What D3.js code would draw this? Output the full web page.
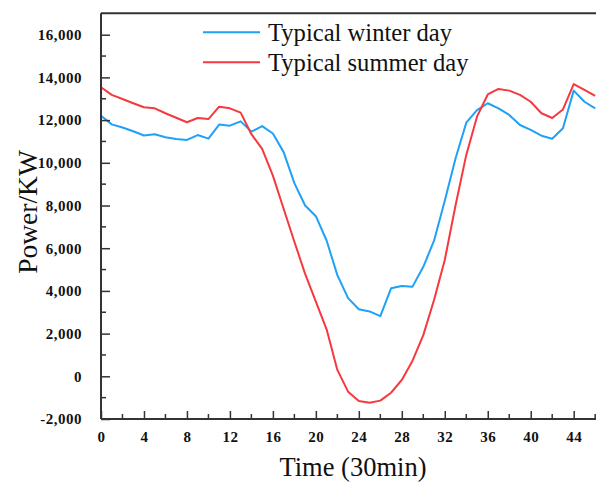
<!DOCTYPE html>
<html><head><meta charset="utf-8">
<script src="https://cdn.jsdelivr.net/npm/d3@7"></script>
<style>body{margin:0;background:#fff}svg{display:block}</style>
</head><body>
<svg id="c" width="596" height="484"></svg>
<script>
const time = d3.range(0, 47);
const winter = [12200,11800,11650,11480,11280,11340,11200,11120,11070,11300,11130,11790,11740,11940,11460,11720,11370,10500,9050,8000,7500,6360,4740,3660,3140,3040,2820,4120,4230,4200,5130,6350,8220,10200,11880,12470,12790,12550,12240,11770,11540,11270,11130,11620,13380,12860,12550];
const summer = [13540,13180,12990,12790,12600,12550,12320,12110,11900,12100,12050,12630,12550,12350,11340,10650,9400,7850,6300,4800,3500,2200,300,-720,-1160,-1240,-1140,-770,-170,730,1930,3570,5450,8000,10370,12160,13200,13460,13380,13180,12860,12320,12100,12500,13690,13410,13130];
const xTicks = [0,4,8,12,16,20,24,28,32,36,40,44];
const yTicks = [-2000,0,2000,4000,6000,8000,10000,12000,14000,16000];
const seriesNames = ["Typical winter day","Typical summer day"];
const colors = ["#1ea1f7","#f5393e"];

const svg = d3.select("#c");
const L = 101, T = 13.35, B = 419;
const x = d3.scaleLinear().domain([0,47]).range([L, L + 47*10.743]);
const y = d3.scaleLinear().domain([-2000,17000]).range([B, T]);
const fmt = d => d3.format(",")(d).replace("\u2212","-");
const serif = "'Liberation Serif','Times New Roman',serif";

// lines
const line = d3.line().x((d,i)=>x(time[i])).y(d=>y(d));
[winter, summer].forEach((s,k)=>{
  svg.append("path").datum(s).attr("d", line).attr("fill","none")
    .attr("stroke", colors[k]).attr("stroke-width", 2).attr("stroke-linejoin","round");
});

// frame
const axCol = "#333";
svg.append("line").attr("x1",L).attr("x2",x(47)).attr("y1",T).attr("y2",T).attr("stroke",axCol).attr("stroke-width",2);

// axes
const yAxis = d3.axisLeft(y).tickValues(yTicks).tickFormat(fmt).tickSize(-9).tickPadding(19);
const gy = svg.append("g").attr("transform",`translate(${L},0)`).call(yAxis);
const yMinor = d3.range(-1000,17000,2000);
gy.selectAll(".minor").data(yMinor).enter().append("line").attr("class","minor")
  .attr("x1",0).attr("x2",5).attr("y1",d=>y(d)).attr("y2",d=>y(d)).attr("stroke",axCol).attr("stroke-width",1.5);

const xAxis = d3.axisBottom(x).tickValues(xTicks).tickSize(-8).tickPadding(17);
const gx = svg.append("g").attr("transform",`translate(0,${B})`).call(xAxis);
const xMinor = d3.range(2,47,4);
gx.selectAll(".minor").data(xMinor).enter().append("line").attr("class","minor")
  .attr("x1",d=>x(d)).attr("x2",d=>x(d)).attr("y1",0).attr("y2",-5).attr("stroke",axCol).attr("stroke-width",1.5);

[gx, gy].forEach(g=>{
  g.select(".domain").attr("stroke",axCol).attr("stroke-width",2);
  g.selectAll(".tick line").attr("stroke",axCol).attr("stroke-width",1.5);
  g.selectAll(".tick text").attr("font-family",serif).attr("font-weight","bold").attr("font-size",15)
    .attr("letter-spacing","0.5px").attr("fill","#111");
});
gy.select(".domain").attr("d",`M0,${B}V${T}`);
gx.select(".domain").attr("d",`M${L},0H${x(47)}`);
gx.selectAll(".tick text").attr("dy","0.32em").attr("y",18);

// axis titles
svg.append("text").attr("x",353).attr("y",476).attr("text-anchor","middle")
  .attr("font-family",serif).attr("font-size",26.5).attr("fill","#111").text("Time (30min)");
svg.append("text").attr("transform","translate(37,212) rotate(-90)").attr("text-anchor","middle")
  .attr("font-family",serif).attr("font-size",27.5).attr("fill","#111").text("Power/KW");

// legend
seriesNames.forEach((n,k)=>{
  const ly = 32.3 + k*30;
  svg.append("line").attr("x1",203).attr("x2",260).attr("y1",ly).attr("y2",ly).attr("stroke",colors[k]).attr("stroke-width",2);
  svg.append("text").attr("x",268).attr("y",ly+8.5).attr("font-family",serif).attr("font-size",24.6).attr("fill","#111").text(n);
});
</script>
</body></html>
